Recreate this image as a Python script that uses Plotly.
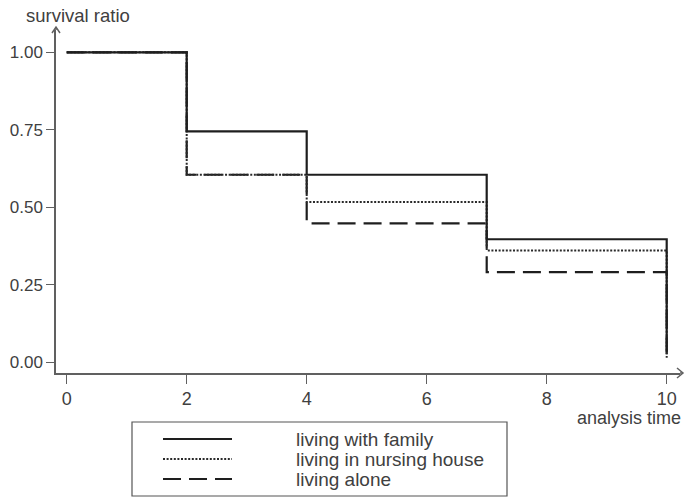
import plotly.graph_objects as go

# ---- data ----
times = [0, 2, 4, 7, 10]
family = [1.00, 0.745, 0.605, 0.397, 0.033]
nursing = [1.00, 0.605, 0.517, 0.361, 0.015]
alone = [1.00, 0.605, 0.448, 0.291, 0.015]
series_names = ["living with family", "living in nursing house", "living alone"]
x_ticks = [0, 2, 4, 6, 8, 10]
y_ticks = [0.0, 0.25, 0.5, 0.75, 1.0]
y_tick_labels = ["0.00", "0.25", "0.50", "0.75", "1.00"]

W, H = 691, 497
L, R, T, B = 56, 680, 30, 373  # plot area pixel edges

def px(x):
    return (x - L) / (R - L)

def py(y):
    return (B - y) / (B - T)

FONT = "Liberation Sans, Arial, sans-serif"
TXT = "#404040"
AX = "#606060"

styles = [
    dict(color="#1e1e1e", width=2.2, dash="solid"),
    dict(color="#2a2a2a", width=2, dash="2px,1.6px"),
    dict(color="#1e1e1e", width=2.2, dash="18px,8px"),
]

fig = go.Figure()
# draw alone first, then nursing, then family on top
order = [(2, alone), (1, nursing), (0, family)]
for idx, vals in order:
    fig.add_trace(go.Scatter(
        x=times, y=vals, mode="lines", line_shape="hv",
        line=styles[idx], name=series_names[idx], showlegend=False,
        hoverinfo="skip"))

fig.update_layout(
    width=W, height=H,
    margin=dict(l=L, r=W - R, t=T, b=H - B, pad=0),
    paper_bgcolor="white", plot_bgcolor="white",
    font=dict(family=FONT, size=18, color=TXT),
    xaxis=dict(range=[(L - 66.7) / 60.0, (R - 66.7) / 60.0],
               tickvals=x_ticks, ticks="outside", ticklen=9, tickwidth=1.3,
               tickcolor=AX, showline=True, linecolor=AX, linewidth=1.5,
               showgrid=False, zeroline=False,
               tickfont=dict(size=18, color=TXT, family=FONT)),
    yaxis=dict(range=[(362.3 - B) / 310.0, (362.3 - T) / 310.0],
               tickvals=y_ticks, ticktext=y_tick_labels, ticks="outside",
               ticklen=8, tickwidth=1.3, tickcolor=AX, showline=True,
               linecolor=AX, linewidth=1.5, showgrid=False, zeroline=False,
               tickfont=dict(size=17, color=TXT, family=FONT)),
)

shapes = []
# axis extensions and arrow chevrons
shapes.append(dict(type="line", xref="paper", yref="paper",
                   x0=px(L), y0=py(T), x1=px(L), y1=py(27),
                   line=dict(color=AX, width=1.5)))
shapes.append(dict(type="path", xref="paper", yref="paper",
                   path=f"M {px(52)} {py(33)} L {px(L)} {py(27)} L {px(60)} {py(33)}",
                   line=dict(color=AX, width=1.5)))
shapes.append(dict(type="line", xref="paper", yref="paper",
                   x0=px(R), y0=py(B), x1=px(683), y1=py(B),
                   line=dict(color=AX, width=1.5)))
shapes.append(dict(type="path", xref="paper", yref="paper",
                   path=f"M {px(677)} {py(368)} L {px(683)} {py(B)} L {px(677)} {py(378)}",
                   line=dict(color=AX, width=1.5)))

# legend box
shapes.append(dict(type="rect", xref="paper", yref="paper",
                   x0=px(132), y0=py(422), x1=px(507), y1=py(496),
                   line=dict(color="#555555", width=1.2), fillcolor="rgba(0,0,0,0)"))
row_y = [439, 459, 479]
for i in range(3):
    st = styles[i]
    shapes.append(dict(type="line", xref="paper", yref="paper",
                       x0=px(163), x1=px(232), y0=py(row_y[i]), y1=py(row_y[i]),
                       line=dict(color=st["color"], width=st["width"], dash=st["dash"])))

annotations = []
for i in range(3):
    annotations.append(dict(xref="paper", yref="paper", x=px(294), y=py(row_y[i]),
                            text=series_names[i], showarrow=False,
                            xanchor="left", yanchor="middle",
                            font=dict(size=19, color=TXT, family=FONT)))
annotations.append(dict(xref="paper", yref="paper", x=px(24), y=py(15),
                        text="survival ratio", showarrow=False,
                        xanchor="left", yanchor="middle",
                        font=dict(size=18.5, color=TXT, family=FONT)))
annotations.append(dict(xref="paper", yref="paper", x=px(683), y=py(418),
                        text="analysis time", showarrow=False,
                        xanchor="right", yanchor="middle",
                        font=dict(size=18, color=TXT, family=FONT)))

fig.update_layout(shapes=shapes, annotations=annotations)
fig.write_html("out.html", config={"displayModeBar": False},
               post_script="document.body.style.margin='0';document.body.style.overflow='hidden';")
